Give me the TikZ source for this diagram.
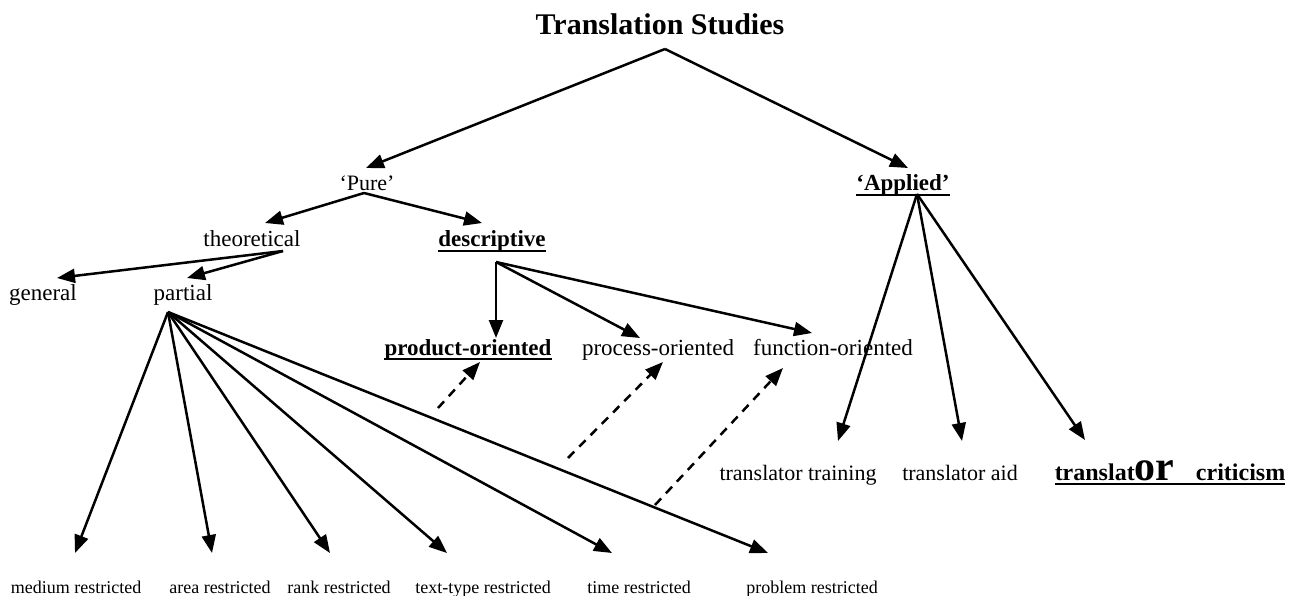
\documentclass[tikz,border=0pt]{standalone}
\usepackage{fontspec}
\setmainfont{Liberation Serif}
\usetikzlibrary{arrows.meta}
\tikzset{
  lbl/.style={anchor=base,inner sep=0pt,font=\fontsize{23}{27}\selectfont},
  lbls/.style={anchor=base,inner sep=0pt,font=\fontsize{22}{26}\selectfont},
  blbl/.style={anchor=base,inner sep=0pt,font=\fontsize{23}{27}\selectfont\bfseries},
  small/.style={anchor=base,inner sep=0pt,font=\fontsize{18}{21}\selectfont},
  arr/.style={line width=2.5pt,-{Triangle[length=18pt,width=14pt]}},
  darr/.style={line width=2.5pt,dash pattern=on 9pt off 7pt,-{Triangle[length=18pt,width=14pt]}},
  ul/.style={line width=2.5pt}
}
\begin{document}
\begin{tikzpicture}[x=1pt,y=-1pt]
\useasboundingbox (0,0) rectangle (1306,596);
% nodes
\node[anchor=base,inner sep=0pt,font=\fontsize{30}{34}\selectfont\bfseries] (ts) at (660,35) {Translation Studies};
\node[lbls] (pure) at (367,191) {‘Pure’};
\node[blbl] (applied) at (903,191) {‘Applied’};
\node[lbl] (theo) at (252,247) {theoretical};
\node[blbl] (desc) at (492,247) {descriptive};
\node[lbl] (gen) at (43,300) {general};
\node[lbl] (part) at (183,300) {partial};
\node[blbl] (prod) at (468,355) {product-oriented};
\node[lbl] (proc) at (658,355) {process-oriented};
\node[lbl] (func) at (833,355) {function-oriented};
\node[lbls] (train) at (798,480) {translator training};
\node[lbls] (aid) at (960,480) {translator aid};
\node[anchor=base,inner sep=0pt,font=\fontsize{24}{28}\selectfont\bfseries] (crit) at (1170,480) {translat{\fontsize{42}{44}\selectfont or}\hspace{0.9em}criticism};
\node[small] (med) at (76,593) {medium restricted};
\node[small] (area) at (220,593) {area restricted};
\node[small] (rank) at (339,593) {rank restricted};
\node[small] (text) at (483,593) {text-type restricted};
\node[small] (time) at (639,593) {time restricted};
\node[small] (prob) at (812,593) {problem restricted};
% underlines
\foreach \n in {applied,desc,prod,crit}
  \draw[ul] ([yshift=-4pt]\n.base west) -- ([yshift=-4pt]\n.base east);
% connection points
\coordinate (tsO) at (665,49);
\coordinate (pureI) at (366,168);
\coordinate (applI) at (908,168);
\coordinate (pureO) at (364,193);
\coordinate (theoI) at (265,223);
\coordinate (descI) at (482,223);
\coordinate (theoO) at (283,251);
\coordinate (genI) at (57,278);
\coordinate (partI) at (187,278);
\coordinate (descO) at (496,262);
\coordinate (prodI) at (496,338);
\coordinate (procI) at (640,338);
\coordinate (funcI) at (812,333);
\coordinate (applO) at (917,194);
\coordinate (trainI) at (838,441);
\coordinate (aidI) at (962,441);
\coordinate (critI) at (1085,440);
\coordinate (partO) at (168,312);
\coordinate (medI) at (75,553);
\coordinate (areaI) at (212,553);
\coordinate (rankI) at (330,553);
\coordinate (textI) at (447,553);
\coordinate (timeI) at (612,553);
\coordinate (probI) at (768,553);
\coordinate (d1s) at (438,408);
\coordinate (d1e) at (480,362);
\coordinate (d2s) at (568,458);
\coordinate (d2e) at (663,362);
\coordinate (d3s) at (655,505);
\coordinate (d3e) at (783,368);
% connectors
\draw[arr] (tsO) -- (pureI);
\draw[arr] (tsO) -- (applI);
\draw[arr] (pureO) -- (theoI);
\draw[arr] (pureO) -- (descI);
\draw[arr] (theoO) -- (genI);
\draw[arr] (theoO) -- (partI);
\draw[arr] (descO) -- (prodI);
\draw[arr] (descO) -- (procI);
\draw[arr] (descO) -- (funcI);
\draw[arr] (applO) -- (trainI);
\draw[arr] (applO) -- (aidI);
\draw[arr] (applO) -- (critI);
\foreach \t in {medI,areaI,rankI,textI,timeI,probI}
  \draw[arr] (partO) -- (\t);
\draw[darr] (d1s) -- (d1e);
\draw[darr] (d2s) -- (d2e);
\draw[darr] (d3s) -- (d3e);
\end{tikzpicture}
\end{document}
